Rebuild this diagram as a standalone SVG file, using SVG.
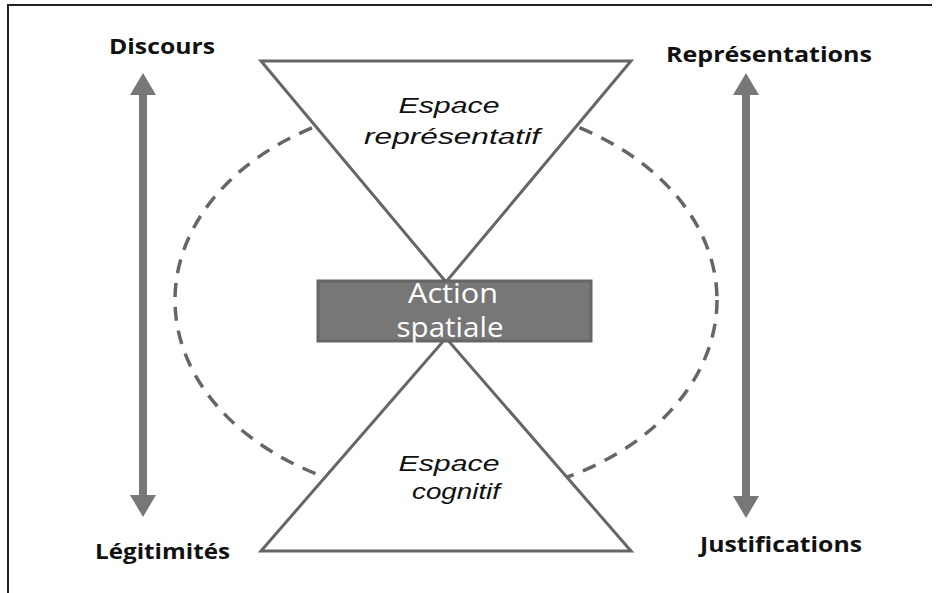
<svg xmlns="http://www.w3.org/2000/svg" width="937" height="593" viewBox="0 0 937 593">
<style>
.lbl{font-family:"Open Sans","Liberation Sans",sans-serif;font-weight:bold;font-size:22px;fill:#111;text-anchor:middle}
.it{font-family:"Liberation Sans",Arial,sans-serif;font-style:italic;font-size:22px;fill:#111;text-anchor:middle}
.act{font-family:"Open Sans","Liberation Sans",sans-serif;font-size:27px;fill:#fff;text-anchor:middle}
.tri{fill:#fff;stroke:#666;stroke-width:3;stroke-linejoin:miter}
.arr{fill:#777}
</style>
<rect width="937" height="593" fill="#fff"/>
<g id="frame" stroke="#222" stroke-width="2" fill="none">
<line x1="7" y1="5" x2="932" y2="5"/>
<line x1="8" y1="5" x2="8" y2="593"/>
</g>
<g id="connectors">
<ellipse id="cycle" cx="446" cy="300" rx="271" ry="198" fill="none" stroke="#666" stroke-width="3.5" stroke-dasharray="14 10"/>
<path id="arrow-left" class="arr" d="M143 73 L156 95 L147 95 L147 495 L156 495 L143 517 L130 495 L139 495 L139 95 L130 95 Z"/>
<path id="arrow-right" class="arr" d="M746 73 L759 95 L750 95 L750 496 L759 496 L746 518 L733 496 L742 496 L742 95 L733 95 Z"/>
</g>
<g id="espace-representatif">
<polygon class="tri" points="261,61 631,61 446,282"/>
<text class="it" x="449" y="113" textLength="101" lengthAdjust="spacingAndGlyphs">Espace</text>
<text class="it" x="452" y="144" textLength="176" lengthAdjust="spacingAndGlyphs">représentatif</text>
</g>
<g id="espace-cognitif">
<polygon class="tri" points="261,551 631,551 446,338"/>
<text class="it" x="449" y="471" textLength="101" lengthAdjust="spacingAndGlyphs">Espace</text>
<text class="it" x="456" y="499" textLength="88" lengthAdjust="spacingAndGlyphs">cognitif</text>
</g>
<g id="action-spatiale">
<rect x="318" y="281" width="273" height="60" fill="#777" stroke="#666" stroke-width="3"/>
<text class="act" x="453" y="303" textLength="90" lengthAdjust="spacingAndGlyphs">Action</text>
<text class="act" x="450" y="337" textLength="107" lengthAdjust="spacingAndGlyphs">spatiale</text>
</g>
<g id="discours"><text class="lbl" x="162" y="54" textLength="106" lengthAdjust="spacingAndGlyphs">Discours</text></g>
<g id="representations"><text class="lbl" x="769" y="62" textLength="206" lengthAdjust="spacingAndGlyphs">Représentations</text></g>
<g id="legitimites"><text class="lbl" x="162.5" y="559" textLength="135" lengthAdjust="spacingAndGlyphs">Légitimités</text></g>
<g id="justifications"><text class="lbl" x="781" y="552" textLength="162" lengthAdjust="spacingAndGlyphs">Justifications</text></g>
</svg>
